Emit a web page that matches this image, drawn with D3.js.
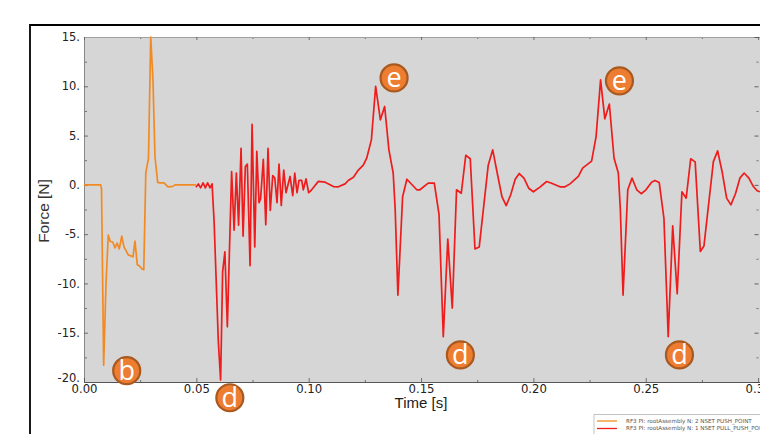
<!DOCTYPE html>
<html><head><meta charset="utf-8">
<script src="https://cdn.jsdelivr.net/npm/d3@7"></script>
<style>html,body{margin:0;padding:0;background:#fff;overflow:hidden}svg{display:block}</style>
</head><body><div id="c"></div>
<script>
const orangeTime=[0,.0074,.0078,.00875,.0098,.0108,.0117,.0128,.0138,.0147,.0157,.0168,.0178,.0197,.0218,.0227,.0237,.0246,.0257,.0266,.0275,.0287,.0297,.0307,.0316,.0328,.0338,.0356,.0374,.0395,.0405,.0498];
const orangeForce=[0,0,-.4,-18.3,-10,-5.1,-5.75,-5.8,-6.4,-5.9,-6.5,-5.2,-6.3,-7.1,-7.3,-5.7,-8.1,-8.2,-8.5,-8.6,1.2,2.7,15,10.6,2.8,.25,.2,.2,-.2,-.15,0,0];
const redTime=[.0498,.0509,.0519,.0530,.0540,.0550,.0561,.0570,.0579,.0598,.0608,.0617,.0627,.0638,.0657,.0668,.0678,.0688,.0699,.0708,.0718,.0727,.0739,.0748,.0760,.0769,.0779,.0786,.0798,.0809,.0819,.0829,.0840,.0849,.0859,.0868,.0878,.0889,.0899,.0917,.0929,.0938,.0948,.0957,.0969,.0976,.0988,.1000,.1013,.1043,.1073,.1110,.1132,.1162,.1176,.1199,.1221,.1243,.1258,.1279,.1298,.1319,.1338,.1357,.1376,.1385,.1397,.1418,.1437,.1481,.1495,.1532,.1559,.1580,.1599,.1619,.1639,.1658,.1679,.1699,.1719,.1740,.1759,.1799,.1819,.1839,.1860,.1879,.1899,.1919,.1937,.1958,.1979,.2000,.2029,.2059,.2081,.2118,.2141,.2163,.2200,.2219,.2259,.2279,.2299,.2318,.2338,.2359,.2378,.2387,.2399,.2420,.2439,.2460,.2480,.2501,.2526,.2541,.2560,.2581,.2600,.2620,.2640,.2661,.2680,.2700,.2720,.2743,.2759,.2801,.2820,.2841,.2860,.2879,.2900,.2919,.2938,.2959,.2979,.2996,.3008];
const redForce=[-.25,.1,-.3,.2,-.3,.2,-.3,.1,-3.7,-16,-19.8,-8.8,-6.8,-14.4,1.35,-4.6,1.2,-4.1,3.7,-5.2,1.85,2.1,-8.2,6.15,-6.3,3.4,-1.8,-1.4,2.6,-4.05,3.7,-2.6,.95,.7,-1.8,2.1,-2.1,1.5,-.8,.85,-1.1,1.2,-.8,.45,.45,-.5,.6,-.8,-.5,.35,.27,-.17,-.2,.1,.44,.78,1.5,2,2.7,4.56,10,6.6,7.95,3.55,1.2,-2.5,-11.2,-1.2,.57,-.5,-.5,.17,.17,-3,-15.4,-5.5,-12.5,-.5,-.85,3,2.65,-6.5,-6.3,2,3.55,1.2,-1.2,-2.1,-1,.57,1.15,.68,-.34,-.7,-.23,.34,.17,-.2,-.2,.1,.85,1.7,2.4,4.9,10.65,6.7,8.2,2.7,1.2,-2.5,-11.2,-.5,.68,-.5,-.9,-.5,.27,.45,.23,-3.4,-15.4,-4.15,-11.05,-.7,-1.35,2.65,2.33,-6.76,-6.2,2.36,3.45,1.2,-1.35,-2.03,-.85,.68,1.2,.68,-.17,-.6,-.7];
const xTicks=[0,.05,.10,.15,.20,.25,.30];
const xMinor=[.025,.075,.125,.175,.225,.275];
const yTicks=[15,10,5,0,-5,-10,-15,-20];
const yMinor=[12.5,7.5,2.5,-2.5,-7.5,-12.5,-17.5];
const badgeLetters=["b","d","e","d","d","e"];
const badgeTime=[.0190,.0649,.1380,.1675,.2650,.2383];
const badgeForce=[-18.85,-21.6,10.85,-17.25,-17.25,10.55];
const legendLabels=["RF3 PI: rootAssembly N: 2 NSET PUSH_POINT","RF3 PI: rootAssembly N: 1 NSET PULL_PUSH_POINT"];
const colors=["#f28a24","#ee1c1c"];

const W=760,H=434;
const x=d3.scaleLinear().domain([0,.30085]).range([84,760]);
const y=d3.scaleLinear().domain([-20,15]).range([382,37]);
const svg=d3.select("#c").append("svg").attr("width",W).attr("height",H);
const tickFont="'DejaVu Sans',sans-serif", titleFont="'Liberation Sans',Arial,sans-serif";

svg.append("rect").attr("x",84).attr("y",37).attr("width",W-84).attr("height",345).attr("fill","#d6d6d6");
svg.append("path").attr("d",`M30,${H}V25H${W}`).attr("fill","none").attr("stroke","#000").attr("stroke-width",1.8);

function style(g,col){g.select(".domain").attr("stroke",col).attr("stroke-width",1);g.selectAll("line").attr("stroke","#555").attr("stroke-width",.8);}
svg.append("g").attr("transform","translate(84,0)").call(d3.axisRight(y).tickValues(yMinor).tickSize(3).tickFormat("")).call(g=>style(g,"#888"));
svg.append("g").attr("transform","translate(0,382)").call(d3.axisTop(x).tickValues(xMinor).tickSize(2).tickFormat("")).call(g=>style(g,"#555"));
svg.append("g").attr("transform","translate(0,37)").call(d3.axisBottom(x).tickValues(xMinor).tickSize(2).tickFormat("")).call(g=>style(g,"#a0a0a0"));
svg.append("g").attr("transform","translate(758.5,0)").call(d3.axisLeft(y).tickValues(yMinor).tickSize(2).tickFormat("")).call(g=>{g.select(".domain").remove();g.selectAll("line").attr("stroke","#555").attr("stroke-width",.8);});
svg.append("g").attr("transform","translate(84,0)").call(d3.axisLeft(y).tickValues(yTicks).tickSize(-4).tickPadding(4).tickFormat(d=>d.toFixed(0)+"."))
 .call(g=>style(g,"#888"))
 .call(g=>g.selectAll("text").attr("font-family",tickFont).attr("font-size",11.5).attr("fill","#222").attr("dy",d=>d===-20?"-0.02em":"0.32em"));
svg.append("g").attr("transform","translate(0,382)").call(d3.axisBottom(x).tickValues(xTicks).tickSize(-4).tickPadding(3).tickFormat(d3.format(".2f")))
 .call(g=>style(g,"#555"))
 .call(g=>g.selectAll("text").attr("font-family",tickFont).attr("font-size",11.7).attr("fill","#222"));
svg.append("g").attr("transform","translate(0,37)").call(d3.axisBottom(x).tickValues(xTicks).tickSize(3).tickFormat("")).call(g=>style(g,"#a0a0a0"));
svg.append("g").attr("transform","translate(758.5,0)").call(d3.axisLeft(y).tickValues(yTicks).tickSize(4).tickFormat("")).call(g=>{g.select(".domain").remove();g.selectAll("line").attr("stroke","#444").attr("stroke-width",.8);});

const line=d3.line().x(d=>x(d[0])).y(d=>y(d[1]));
svg.append("path").datum(d3.zip(redTime,redForce)).attr("d",line).attr("fill","none").attr("stroke",colors[1]).attr("stroke-width",1.7).attr("stroke-linejoin","round");
svg.append("path").datum(d3.zip(orangeTime,orangeForce)).attr("d",line).attr("fill","none").attr("stroke",colors[0]).attr("stroke-width",1.7).attr("stroke-linejoin","round");

svg.append("text").attr("transform","translate(49,211) rotate(-90)").attr("text-anchor","middle").attr("font-family",titleFont).attr("font-size",15.5).attr("fill","#333").text("Force [N]");
svg.append("text").attr("x",421).attr("y",408).attr("text-anchor","middle").attr("font-family",titleFont).attr("font-size",15).attr("fill","#222").text("Time [s]");

const b=svg.append("g").selectAll("g").data(badgeLetters).join("g").attr("transform",(d,i)=>`translate(${x(badgeTime[i])},${y(badgeForce[i])})`);
b.append("circle").attr("r",13.5).attr("fill","#ed7d31").attr("stroke","#a9591f").attr("stroke-width",2.2);
b.append("text").attr("text-anchor","middle").attr("y",9).attr("font-family","'Open Sans',sans-serif").attr("font-size",27).attr("fill","#fff").text(d=>d);

const lg=svg.append("g");
lg.append("rect").attr("x",594).attr("y",414.5).attr("width",170).attr("height",24).attr("fill","#fff").attr("stroke","#aaa").attr("stroke-width",.7);
legendLabels.forEach((t,i)=>{
  const ly=421+i*7.5;
  lg.append("line").attr("x1",597).attr("x2",617).attr("y1",ly).attr("y2",ly).attr("stroke",colors[i]).attr("stroke-width",1.3);
  lg.append("text").attr("x",626).attr("y",ly+1.8).attr("font-family",tickFont).attr("font-size",5.6).attr("fill","#555").text(t);
});
</script></body></html>
